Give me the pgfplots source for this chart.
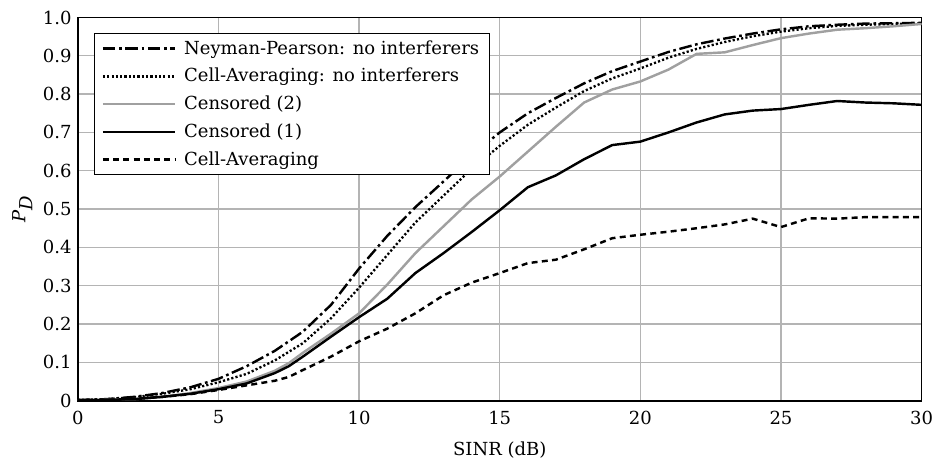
\documentclass[border=0pt]{standalone}
\usepackage{fontspec}
\setmainfont{DejaVu Serif}
\usepackage{pgfplots}
\pgfplotsset{compat=1.18}
\definecolor{cgray}{HTML}{A0A0A0}
\definecolor{ggray}{HTML}{B4B4B4}
\begin{document}
\begin{tikzpicture}
\begin{axis}[name=ax, scale only axis, width=468.9pt, height=213pt,
  xmin=0, xmax=30, ymin=0, ymax=1,
  xtick={0,5,...,30}, ytick={0,0.1,0.2,0.3,0.4,0.5,0.6,0.7,0.8,0.9,1.0},
  yticklabels={0,0.1,0.2,0.3,0.4,0.5,0.6,0.7,0.8,0.9,1.0},
  /pgf/number format/assume math mode=true,
  grid=major, grid style={color=ggray, line width=0.7pt},
  major tick length=0pt,
  axis line style={line width=0.9pt},
  xticklabel style={yshift=-2pt},
  xlabel={SINR (dB)}, ylabel={\textit{P}$_{\textit{D}}$},
  xlabel style={yshift=-3pt},
  ylabel style={yshift=-1pt},
  legend cell align=left,
  legend style={at={(0.019,0.96)}, anchor=north west, draw=black, line width=0.6pt,
    fill=white, inner xsep=4pt, inner ysep=2.5pt, row sep=3.3pt,
    /tikz/every odd column/.style={column sep=3pt},
    nodes={inner sep=1.5pt}},
  legend image code/.code={\draw[#1] (0pt,0pt) -- (40pt,0pt);},
]
\addplot[black, line width=1.35pt, dash pattern=on 7pt off 2pt on 1.5pt off 2pt] coordinates {
(0,0.002)(1,0.004)(2,0.010)(3,0.020)(4,0.035)(5,0.057)(6,0.090)(7,0.130)(8,0.180)(9,0.250)(10,0.345)(11,0.430)(12,0.505)(13,0.572)(14,0.640)(15,0.700)(16,0.750)(17,0.790)(18,0.828)(19,0.860)(20,0.885)(21,0.910)(22,0.930)(23,0.945)(24,0.958)(25,0.969)(26,0.977)(27,0.981)(28,0.984)(29,0.985)(30,0.986)};
\addlegendentry{Neyman-Pearson: no interferers}
\addplot[black, line width=1.3pt, dash pattern=on 1.2pt off 1.2pt] coordinates {
(0,0.002)(1,0.004)(2,0.009)(3,0.018)(4,0.030)(5,0.048)(6,0.070)(7,0.105)(8,0.150)(9,0.215)(10,0.295)(11,0.380)(12,0.465)(13,0.535)(14,0.605)(15,0.665)(16,0.720)(17,0.765)(18,0.808)(19,0.841)(20,0.867)(21,0.895)(22,0.918)(23,0.936)(24,0.951)(25,0.963)(26,0.972)(27,0.978)(28,0.981)(29,0.983)(30,0.984)};
\addlegendentry{Cell-Averaging: no interferers}
\addplot[cgray, line width=1.35pt] coordinates {
(0,0.001)(1,0.002)(2,0.004)(3,0.010)(4,0.020)(5,0.033)(6,0.050)(7,0.078)(7.5,0.098)(8,0.125)(9,0.175)(10,0.228)(11,0.303)(12,0.385)(13,0.455)(14,0.525)(15,0.585)(16,0.650)(17,0.715)(18,0.778)(19,0.812)(20,0.833)(21,0.864)(22,0.905)(23,0.909)(24,0.928)(25,0.946)(26,0.958)(27,0.968)(28,0.972)(29,0.977)(30,0.983)};
\addlegendentry{Censored (2)}
\addplot[black, line width=1.35pt] coordinates {
(0,0.001)(1,0.002)(2,0.004)(3,0.010)(4,0.018)(5,0.030)(6,0.045)(7,0.072)(7.5,0.090)(8,0.115)(9,0.167)(10,0.218)(11,0.266)(12,0.333)(13,0.385)(14,0.440)(15,0.497)(16,0.557)(17,0.588)(18,0.630)(19,0.667)(20,0.676)(21,0.700)(22,0.726)(23,0.747)(24,0.757)(25,0.761)(26,0.772)(27,0.782)(28,0.778)(29,0.776)(30,0.772)};
\addlegendentry{Censored (1)}
\addplot[black, line width=1.35pt, dash pattern=on 3.3pt off 2.4pt] coordinates {
(0,0.001)(1,0.002)(2,0.005)(3,0.010)(4,0.017)(5,0.028)(6,0.040)(7,0.052)(7.5,0.062)(8,0.080)(9,0.115)(10,0.155)(11,0.188)(12,0.228)(13,0.275)(14,0.308)(15,0.333)(16,0.359)(17,0.368)(18,0.395)(19,0.424)(20,0.433)(21,0.441)(22,0.450)(23,0.460)(24,0.475)(25,0.453)(26,0.476)(27,0.475)(28,0.479)(29,0.479)(30,0.479)};
\addlegendentry{Cell-Averaging}
\end{axis}
\path ([xshift=-43.3pt,yshift=-32.8pt]ax.south west) rectangle ([xshift=9.4pt,yshift=9.7pt]ax.north east);
\end{tikzpicture}
\end{document}
